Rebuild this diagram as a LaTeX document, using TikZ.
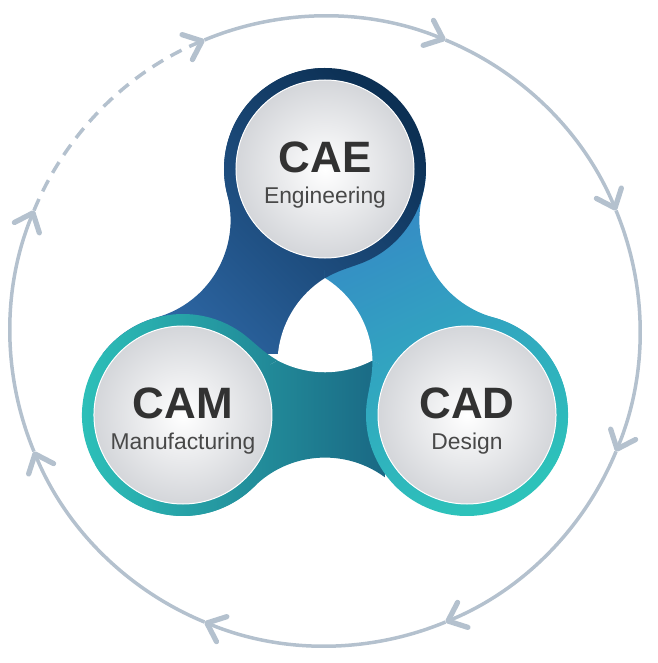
\documentclass[tikz,border=0pt]{standalone}
\usepackage{fontspec}
\setmainfont{Liberation Sans}
\usetikzlibrary{arrows.meta}

\definecolor{ringgray}{RGB}{180,193,206}
\definecolor{caeA}{RGB}{12,48,84}
\definecolor{caeB}{RGB}{46,104,166}
\definecolor{camA}{RGB}{45,192,185}
\definecolor{camB}{RGB}{26,104,132}
\definecolor{cadA}{RGB}{54,136,198}
\definecolor{cadB}{RGB}{45,194,186}
\definecolor{discgray}{RGB}{212,214,218}
\definecolor{txt}{RGB}{50,50,50}
\definecolor{subtxt}{RGB}{72,72,72}

% outline of the three rings and their bridges
\newcommand{\spinner}{(90:164) ++(-14.66:101) arc (-14.66:194.66:101) arc (14.66:-74.66:101)
  arc (105.34:314.66:101) arc (134.66:45.34:101)
  arc (225.34:434.66:101) arc (254.66:165.34:101) -- cycle}

\tikzset{
  shcae/.style={top color=caeA, bottom color=caeB, shading angle=-45},
  shcam/.style={left color=camA, right color=camB},
  shcad/.style={top color=cadA, bottom color=cadB, shading angle=25},
  disc/.style={circle, minimum size=35.6mm, inner sep=0pt, inner color=white, outer color=discgray, draw=white, line width=0.2mm},
  ttl/.style={anchor=base, inner sep=0pt, text=txt, font=\fontsize{25}{30}\selectfont\bfseries},
  sub/.style={anchor=base, inner sep=0pt, text=subtxt, font=\fontsize{13}{16}\selectfont},
  cyc/.style={draw=ringgray, line width=0.7mm}
}

\begin{document}
\begin{tikzpicture}[x=0.2mm, y=0.2mm, >={Straight Barb[length=3.2mm,width=5.4mm,line width=1.05mm,round]}]

\useasboundingbox (-325,-330) rectangle (333,333);
%\draw[xstep=50,ystep=50,color=gray!50] (-325,-330) grid (333,333);

% bridges
\foreach \p/\sh/\ra/\rb in {90/shcae/{-230,-20}/{110,270}, 210/shcam/{-245,-185}/{60,30}, 330/shcad/{-10,-185}/{245,160}}
  {\begin{scope}
    \clip \spinner;
    \clip (0,0) -- (\p:400) -- (\p+60:800) -- (\p+120:400) -- cycle;
    \shade[\sh] (\ra) rectangle (\rb);
  \end{scope}}

% rings, each with a tail into the middle
\foreach \p/\sh/\ra/\rb in {90/shcae/{-230,-20}/{110,270}, 210/shcam/{-245,-185}/{60,30}, 330/shcad/{-10,-185}/{245,160}}
  {\begin{scope}
    \clip (\p:54.8) -- (\p:63) arc (\p+180:\p-160:101) to[out=\p-250, in=\p-60] (\p:54.8) -- cycle;
    \shade[\sh] (\ra) rectangle (\rb);
  \end{scope}}

\fill[white] (210:54.8) arc (241.95:298.05:101) arc (1.95:58.05:101) arc (121.95:178.05:101) -- cycle;

\node[disc] (cae) at (90:164) {};
\node[disc] (cam) at (210:164) {};
\node[disc] (cad) at (330:164) {};

\node[ttl] (caeT) at ([yshift=-0.6mm]cae.center) {CAE};
\node[sub] (caeS) at ([yshift=-6.9mm]cae.center) {Engineering};
\node[ttl] (camT) at ([yshift=-0.6mm]cam.center) {CAM};
\node[sub] (camS) at ([yshift=-6.9mm]cam.center) {Manufacturing};
\node[ttl] (cadT) at ([yshift=-0.6mm]cad.center) {CAD};
\node[sub] (cadS) at ([yshift=-6.9mm]cad.center) {Design};

% the cycle round it
\foreach \a in {112.5, 67.5, 22.5, -22.5, -67.5, -112.5, -157.5}
  \draw[cyc, ->, shift={(0,2)}] (\a:315) arc (\a:\a-45:315);
\draw[cyc, dash pattern=on 2.5mm off 1.7mm, ->, shift={(0,2)}] (157.5:315) arc (157.5:112.5:315);

\end{tikzpicture}
\end{document}
